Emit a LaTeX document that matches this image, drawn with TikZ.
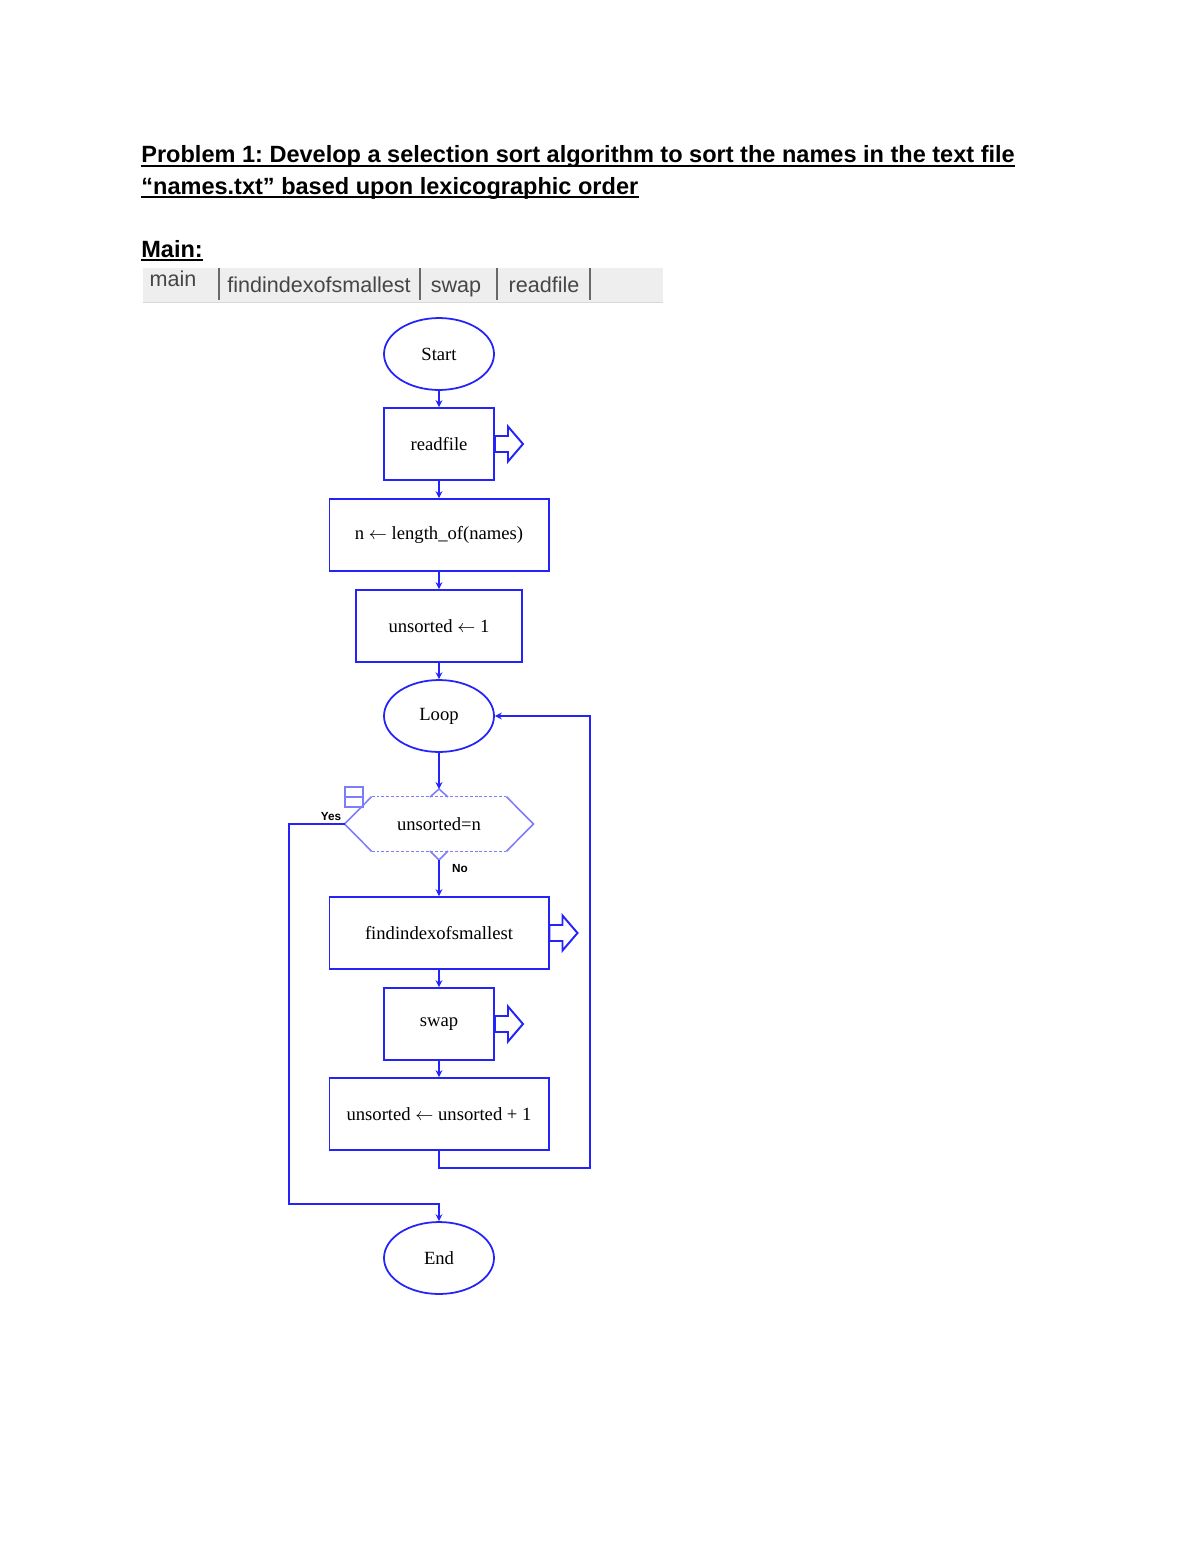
\documentclass[tikz,border=0pt]{standalone}
\usepackage{fontspec}
\setmainfont{Liberation Serif}
\newfontfamily\docfont{Liberation Sans}
\usetikzlibrary{shapes.geometric, arrows.meta}
\definecolor{rblue}{RGB}{35,35,250}
\definecolor{hexblue}{RGB}{125,125,250}
\definecolor{tabgray}{RGB}{238,238,238}
\definecolor{tabline}{RGB}{105,105,105}
\definecolor{tabtext}{RGB}{70,70,70}
\frenchspacing
\tikzset{ term/.style = { ellipse
                        , draw         = rblue
                        , line width   = 0.9pt
                        , inner sep    = 0pt
                        , minimum width  = 56.1pt
                        , minimum height = 36.7pt
                        , font = \fontsize{9.5}{11}\selectfont
                        },
          proc/.style = { rectangle
                        , draw         = rblue
                        , line width   = 1pt
                        , inner sep    = 0pt
                        , minimum width  = 56.1pt
                        , minimum height = 36.7pt
                        , font = \fontsize{9.5}{11}\selectfont
                        },
          dec/.style  = { rectangle
                        , inner sep    = 0pt
                        , minimum width  = 95.9pt
                        , minimum height = 27.5pt
                        , font = \fontsize{9.5}{11}\selectfont
                        },
          link/.style     = { rblue, line width = 1.2pt, -{Stealth[length=3.5pt, width=3.5pt]} },
          hexside/.style  = { hexblue, line width = 0.8pt },
          callarrow/.style = { rblue, line width = 1pt, line join = miter },
          tab/.style  = { font = \docfont\fontsize{11}{13}\selectfont, text = tabtext, inner sep = 0pt, anchor = base },
          tiny/.style = { font = \docfont\bfseries\fontsize{6}{7}\selectfont, inner sep = 0pt },
          head/.style = { font = \docfont\bfseries\fontsize{12}{14}\selectfont, inner sep = 0pt, anchor = base west },
          uline/.style = { line width = 0.9pt }
        }
\begin{document}
\begin{tikzpicture}[x=0.51pt, y=-0.51pt]
    \useasboundingbox (0,0) rectangle (1200,1553);
    \fill[white] (0,0) rectangle (1200,1553);
    % heading
    \node[head] (title1) at (141,163) {Problem 1: Develop a selection sort algorithm to sort the names in the text file};
    \node[head] (title2) at (141,194) {“names.txt” based upon lexicographic order};
    \node[head] (mainlbl) at (141,257) {Main:};
    \foreach \t in {title1,title2,mainlbl}
        \draw[uline] ([yshift=-1.6pt]\t.base west) -- ([yshift=-1.6pt]\t.base east);
    % tab bar
    \fill[tabgray] (143,268) rectangle (663,302);
    \draw[tabgray!80!gray] (143,302) -- (663,302);
    \foreach \sx in {219,420,497,590}
        \draw[tabline, line width = 1.1pt] (\sx,268) -- (\sx,300);
    \node[tab] (tmain) at (173,287) {main};
    \node[tab] (tfind) at (319,292) {findindexofsmallest};
    \node[tab] (tswap) at (456,292) {swap};
    \node[tab] (tread) at (544,292) {readfile};
    % flowchart
    \node[term] (start)  at (439,354)  {Start};
    \node[proc] (rf)     at (439,444)  {readfile};
    \node[proc, minimum width = 111.7pt] (len) at (439,535) {n $\leftarrow$ length\_of(names)};
    \node[proc, minimum width = 84.2pt]  (init) at (439,626) {unsorted $\leftarrow$ 1};
    \node[term] (loop)   at (439,716)  {Loop};
    \node[dec]  (test)   at (439,824)  {unsorted=n};
    \node[proc, minimum width = 111.7pt] (fi) at (439,933) {findindexofsmallest};
    \node[proc] (sw)     at (439,1024) {swap};
    \node[proc, minimum width = 111.7pt] (inc) at (439,1114) {unsorted $\leftarrow$ unsorted + 1};
    \node[term] (finish) at (439,1258) {End};
    % hexagon round the test
    \draw[hexside] ([xshift=13.8pt]test.south west) -- (test.west) -- ([xshift=13.8pt]test.north west);
    \draw[hexside] ([xshift=-13.8pt]test.north east) -- (test.east) -- ([xshift=-13.8pt]test.south east);
    \draw[hexside, dash pattern = on 1.5pt off 1pt] ([xshift=13.8pt]test.north west) -- ([xshift=-13.8pt]test.north east);
    \draw[hexside, dash pattern = on 1.5pt off 1pt] ([xshift=13.8pt]test.south west) -- ([xshift=-13.8pt]test.south east);
    \coordinate (dtop) at (439,789);
    \coordinate (dbot) at (439,860);
    \draw[hexside] (430,797) -- (dtop) -- (448,797);
    \draw[hexside] (430,851) -- (dbot) -- (448,851);
    \node[draw = hexblue, line width = 0.8pt, minimum width = 9pt, minimum height = 10pt, inner sep = 0pt] (fold) at (354,797) {};
    \draw[hexblue, line width = 0.8pt] (fold.west) -- (fold.east);
    \node[tiny] (yes) at (331,817) {Yes};
    \node[tiny] (no)  at (460,869) {No};
    % calls
    \foreach \b in {rf,fi,sw}
        \draw[callarrow] (\b.east) -- ++(0,-8) -- ++(13,0) -- ++(0,-9.5) -- ++(15,17.5)
                         -- ++(-15,17.5) -- ++(0,-9.5) -- ++(-13,0) -- (\b.east);
    % connectors
    \draw[link] (start) -- (rf);
    \draw[link] (rf) -- (len);
    \draw[link] (len) -- (init);
    \draw[link] (init) -- (loop);
    \draw[link] (loop) -- (dtop);
    \draw[link] (dbot) -- (fi);
    \draw[link] (fi) -- (sw);
    \draw[link] (sw) -- (inc);
    \coordinate (back) at (590,1168);
    \coordinate (out)  at (289,1204);
    \draw[link] (inc.south) |- (back) |- (loop.east);
    \draw[link] (test.west) -| (out) -| (finish.north);
\end{tikzpicture}
\end{document}
